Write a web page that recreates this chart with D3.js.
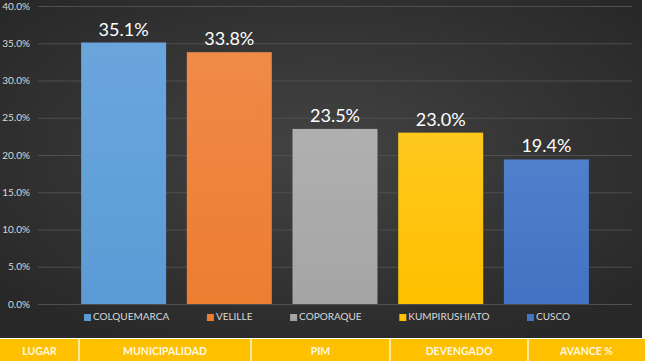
<!DOCTYPE html>
<html>
<head>
<meta charset="utf-8">
<script src="https://cdn.jsdelivr.net/npm/d3@7"></script>
<style>
  body { margin: 0; background: #fff; }
  svg { display: block; font-family: Lato, "Open Sans", sans-serif; }
</style>
</head>
<body>
<div id="chart"></div>
<script>
// data
var places = ["COLQUEMARCA", "VELILLE", "COPORAQUE", "KUMPIRUSHIATO", "CUSCO"];
var avance = [35.1, 33.8, 23.5, 23.0, 19.4];
var yTicks = [0, 5, 10, 15, 20, 25, 30, 35, 40];
var headers = ["LUGAR", "MUNICIPALIDAD", "PIM", "DEVENGADO", "AVANCE %"];

var colors = ["#5b9bd5", "#ed7d31", "#a5a5a5", "#ffc000", "#4472c4"];
var colorsTop = ["#6aa6dc", "#f08a48", "#b0b0b0", "#ffc81e", "#5080cc"];

var W = 645, H = 363;
var chartW = 642, chartH = 338;

var svg = d3.select("#chart").append("svg")
  .attr("width", W)
  .attr("height", H);

var defs = svg.append("defs");
var bg = defs.append("radialGradient").attr("id", "bg")
  .attr("cx", "50%").attr("cy", "45%").attr("r", "65%");
bg.append("stop").attr("offset", "0%").attr("stop-color", "#434343");
bg.append("stop").attr("offset", "100%").attr("stop-color", "#282828");

colors.forEach(function(c, i){
  var g = defs.append("linearGradient").attr("id", "bar" + i)
    .attr("x1", 0).attr("y1", 0).attr("x2", 0).attr("y2", 1);
  g.append("stop").attr("offset", "0%").attr("stop-color", colorsTop[i]);
  g.append("stop").attr("offset", "100%").attr("stop-color", c);
});

svg.append("rect")
  .attr("width", chartW)
  .attr("height", chartH)
  .attr("fill", "url(#bg)");

var x = d3.scaleBand()
  .domain(places)
  .range([38, 632])
  .paddingInner(0.196)
  .paddingOuter(0.408);

var y = d3.scaleLinear()
  .domain([0, 40])
  .range([304, 6]);

// gridlines + tick labels
var yAxis = d3.axisLeft(y)
  .tickValues(yTicks)
  .tickSize(-(632 - 38))
  .tickPadding(8)
  .tickFormat(function(d){ return d.toFixed(1) + "%"; });

var ga = svg.append("g")
  .attr("transform", "translate(38,0)")
  .call(yAxis);
ga.select(".domain").remove();
ga.selectAll(".tick line").attr("stroke", "#4f4f4f").attr("stroke-width", 1);
ga.selectAll(".tick text")
  .attr("fill", "#d9d9d9")
  .attr("font-size", 10)
  .attr("font-family", "Lato, sans-serif");

// bars
svg.selectAll("rect.bar")
  .data(avance)
  .enter()
  .append("rect")
  .attr("class", "bar")
  .attr("x", function(d, i){ return x(places[i]); })
  .attr("y", function(d){ return y(d); })
  .attr("width", x.bandwidth())
  .attr("height", function(d){ return y(0) - y(d); })
  .attr("fill", function(d, i){ return "url(#bar" + i + ")"; });

// value labels
svg.selectAll("text.val")
  .data(avance)
  .enter()
  .append("text")
  .attr("class", "val")
  .attr("x", function(d, i){ return x(places[i]) + x.bandwidth() / 2; })
  .attr("y", function(d){ return y(d) - 7; })
  .attr("text-anchor", "middle")
  .attr("fill", "#ffffff")
  .attr("font-size", 18)
  .text(function(d){ return d.toFixed(1) + "%"; });

// legend
var legend = svg.append("g");
var items = legend.selectAll("g")
  .data(places)
  .enter()
  .append("g");
items.append("rect")
  .attr("width", 7).attr("height", 7)
  .attr("y", -6)
  .attr("fill", function(d, i){ return colors[i]; });
items.append("text")
  .attr("x", 9)
  .attr("y", 0)
  .attr("fill", "#d9d9d9")
  .attr("font-size", 10)
  .text(function(d){ return d; });

// spread the items across the same span as the original legend
var legendLeft = 84, legendRight = 570;
var widths = [];
items.each(function(){ widths.push(this.getBBox().width); });
var gap = (legendRight - legendLeft - d3.sum(widths)) / (widths.length - 1);
var pos = legendLeft, offs = [];
widths.forEach(function(w){ offs.push(pos); pos += w + gap; });
items.attr("transform", function(d, i){ return "translate(" + offs[i] + ",320)"; });

// bottom header row
var cellW = [79, 172, 139, 138, 117];
var cx = 0;
var cells = cellW.map(function(w){ var c = { x: cx, w: w }; cx += w; return c; });

svg.append("rect")
  .attr("x", 0).attr("y", 339)
  .attr("width", W).attr("height", 22)
  .attr("fill", "#ffc000");

svg.selectAll("line.sep")
  .data(cells.slice(1))
  .enter()
  .append("line")
  .attr("class", "sep")
  .attr("x1", function(d){ return d.x; })
  .attr("x2", function(d){ return d.x; })
  .attr("y1", 339).attr("y2", 361)
  .attr("stroke", "#fff6d6")
  .attr("stroke-width", 1.5);

svg.selectAll("text.head")
  .data(headers)
  .enter()
  .append("text")
  .attr("class", "head")
  .attr("x", function(d, i){ return cells[i].x + cells[i].w / 2; })
  .attr("y", 354.5)
  .attr("text-anchor", "middle")
  .attr("fill", "#fff8e0")
  .attr("font-size", 10.5)
  .attr("font-weight", "bold")
  .text(function(d){ return d; });
</script>
</body>
</html>
